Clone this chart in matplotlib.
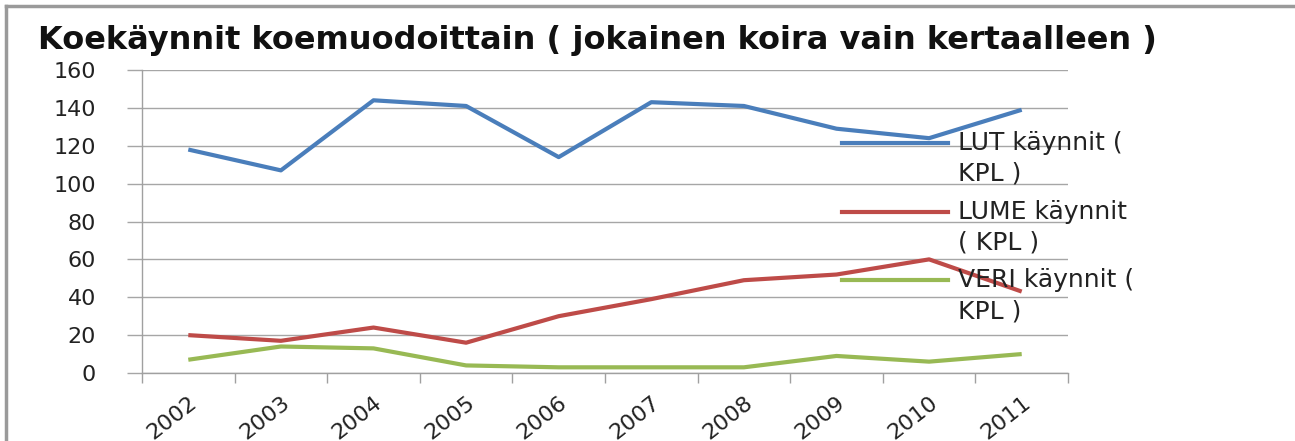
import matplotlib
matplotlib.use("Agg")
import matplotlib.pyplot as plt
from matplotlib.lines import Line2D
import numpy as np

years = ["2002", "2003", "2004", "2005", "2006", "2007", "2008", "2009", "2010", "2011"]
lut = [118, 107, 144, 141, 114, 143, 141, 129, 124, 139]
lume = [20, 17, 24, 16, 30, 39, 49, 52, 60, 43]
veri = [7, 14, 13, 4, 3, 3, 3, 9, 6, 10]
series_labels = ["LUT käynnit (\nKPL )", "LUME käynnit\n( KPL )", "VERI käynnit (\nKPL )"]
colors = ["#4A7EBB", "#BE4B48", "#98B954"]
title = "Koekäynnit koemuodoittain ( jokainen koira vain kertaalleen )"
yticks = [0, 20, 40, 60, 80, 100, 120, 140, 160]

W, H = 1295, 441
fig = plt.figure(figsize=(W / 100, H / 100), dpi=100)
fig.patch.set_facecolor("white")

ax = fig.add_axes([142 / W, 1 - 373 / H, (1068 - 142) / W, (373 - 70) / H])
x = np.arange(len(years))
for vals, c in zip([lut, lume, veri], colors):
    ax.plot(x, vals, color=c, lw=3, solid_joinstyle="round", solid_capstyle="butt", zorder=3)

ax.set_xlim(-0.5, len(years) - 0.5)
ax.set_ylim(0, 160)
ax.set_yticks(yticks)
ax.set_yticklabels([str(v) for v in yticks])
ax.grid(axis="y", color="#a6a6a6", lw=1)
ax.set_axisbelow(True)
for s in ["top", "right"]:
    ax.spines[s].set_visible(False)
for s in ["left", "bottom"]:
    ax.spines[s].set_color("#a0a0a0")
    ax.spines[s].set_linewidth(1)

ax.tick_params(axis="y", length=11, width=1, color="#a6a6a6", pad=22,
               labelsize=16, labelcolor="#222222")
ax.set_xticks(x)
ax.set_xticklabels(years, rotation=38, ha="right", rotation_mode="anchor",
                   fontsize=16, color="#222222")
ax.tick_params(axis="x", length=0, pad=14)
ax.set_xticks(np.arange(len(years) + 1) - 0.5, minor=True)
ax.tick_params(axis="x", which="minor", length=7, width=1, color="#a0a0a0")

fig.text(38 / W, 1 - 40 / H, title, fontsize=23, fontweight="bold",
         ha="left", va="center", color="#111111")

# legend (manual, no frame)
rows_y = [143, 212, 280]
for lab, c, ry in zip(series_labels, colors, rows_y):
    fy = 1 - ry / H
    fig.add_artist(Line2D([842 / W, 948 / W], [fy, fy], color=c, lw=3,
                          transform=fig.transFigure, zorder=5))
    lines = lab.split("\n")
    for i, ln in enumerate(lines):
        fig.text(958 / W, 1 - (ry + 31 * i) / H, ln, fontsize=18, color="#222222",
                 ha="left", va="center")

# frame border (left and top)
fig.add_artist(Line2D([6 / W, 6 / W], [0, 1 - 6 / H], color="#9a9a9a", lw=2.5,
                      transform=fig.transFigure))
fig.add_artist(Line2D([6 / W, 1], [1 - 6 / H, 1 - 6 / H], color="#9a9a9a", lw=2.5,
                      transform=fig.transFigure))

fig.savefig("out.png", dpi=100, facecolor="white")
